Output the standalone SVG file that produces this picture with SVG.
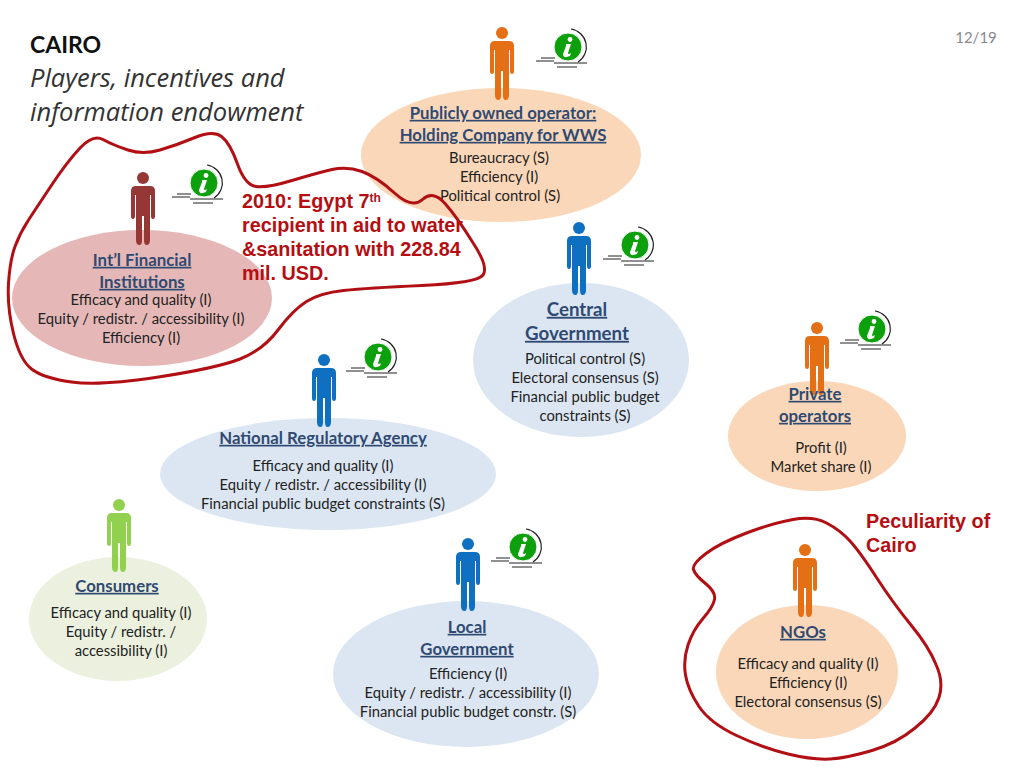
<svg xmlns="http://www.w3.org/2000/svg" xmlns:xlink="http://www.w3.org/1999/xlink" width="1024" height="768" viewBox="0 0 1024 768">
<style>
text{font-family:"Lato","Carlito","Open Sans",sans-serif;fill:#222;text-anchor:middle;transform:translateY(.8px)}
.b{font-size:14.800px}
.h{font-size:16.800px;font-weight:700;fill:#2f4a72;text-decoration:underline}
.h2{font-size:18.700px;font-weight:700;fill:#2f4a72;text-decoration:underline}
.r{font-family:"Liberation Sans",sans-serif;font-size:19.800px;font-weight:700;fill:#b50e12;text-anchor:start;transform:none}
.t{font-family:"Open Sans",sans-serif;font-size:25.500px;font-style:italic;text-anchor:start;fill:#333}
.blob{fill:none;stroke:#b20f14;stroke-width:3}
</style>
<defs>
<g id="person"><circle cx="0" cy="6" r="6"/><path d="M-7 14H7Q12 14 12 19V44Q12 47 10 47Q8 47 8 44V23H7V68Q7 73 3.500 73Q1 73 1 68V44H-1V68Q-1 73 -3.500 73Q-7 73 -7 68V23H-8V44Q-8 47 -10 47Q-12 47 -12 44V19Q-12 14 -7 14Z"/></g>
<g id="info">
<path d="M3 -18A18 18 0 0 1 10 15" fill="none" stroke="#222" stroke-width="1.200"/>
<path d="M-32 14H-14M-27 11H-13M-14 16H19M-11 20H9" stroke="#222" stroke-width="1.200" fill="none"/>
<circle r="14" fill="#0ca10c" stroke="#fff" stroke-width="1"/>
<circle cx="2" cy="-7.500" r="2.400" fill="#fff"/>
<path d="M-2 -3H3L0 6Q0 8 3 6L2 9Q-5 12 -5 7L-2 -1Z" fill="#fff"/>
</g>
</defs>
<text x="30" y="52" style="font-size:23px;font-weight:700;text-anchor:start;fill:#111">CAIRO</text>
<text class="t" x="30" y="86">Players, incentives and</text>
<text class="t" x="30" y="120">information endowment</text>
<text x="976" y="42" style="font-size:15px;fill:#8a8a8a">12/19</text>

<g id="node-holding">
<ellipse cx="501" cy="155" rx="140" ry="67" fill="#fad7b8"/>
<use xlink:href="#person" href="#person" x="502" y="27" fill="#e46f14"/>
<use xlink:href="#info" href="#info" x="568" y="47"/>
<text class="h" x="503" y="118">Publicly owned operator:</text>
<text class="h" x="503" y="140">Holding Company for WWS</text>
<text class="b" x="499" y="162">Bureaucracy (S)</text>
<text class="b" x="499" y="181">Efficiency  (I)</text>
<text class="b" x="500" y="200">Political control (S)</text>
</g>
<g id="node-ifi">
<ellipse cx="142" cy="298" rx="130" ry="68" fill="#e5b8b7"/>
<use xlink:href="#person" href="#person" x="143" y="172" fill="#953735"/>
<use xlink:href="#info" href="#info" x="204" y="183"/>
<text class="h" x="142" y="265">Int’l Financial</text>
<text class="h" x="142" y="287">Institutions</text>
<text class="b" x="141" y="304">Efficacy and quality (I)</text>
<text class="b" x="141" y="323">Equity / redistr. / accessibility (I)</text>
<text class="b" x="141" y="342">Efficiency (I)</text>
</g>
<g id="node-central">
<ellipse cx="581" cy="360" rx="108" ry="77" fill="#dce6f2"/>
<use xlink:href="#person" href="#person" x="579" y="222" fill="#0f6fc0"/>
<use xlink:href="#info" href="#info" x="635" y="245"/>
<text class="h2" x="577" y="315">Central</text>
<text class="h2" x="577" y="339">Government</text>
<text class="b" x="585" y="363">Political control (S)</text>
<text class="b" x="585" y="382">Electoral consensus (S)</text>
<text class="b" x="585" y="401">Financial public budget</text>
<text class="b" x="585" y="420">constraints (S)</text>
</g>
<g id="node-private">
<ellipse cx="817" cy="436" rx="89" ry="55" fill="#fad7b8"/>
<use xlink:href="#person" href="#person" x="817" y="322" fill="#e46f14"/>
<use xlink:href="#info" href="#info" x="872" y="329"/>
<text class="h" x="815" y="399">Private</text>
<text class="h" x="815" y="421">operators</text>
<text class="b" x="821" y="452">Profit (I)</text>
<text class="b" x="821" y="471">Market share (I)</text>
</g>
<g id="node-regulator">
<ellipse cx="328" cy="474" rx="168" ry="56" fill="#dce6f2"/>
<use xlink:href="#person" href="#person" x="324" y="354" fill="#0f6fc0"/>
<use xlink:href="#info" href="#info" x="378" y="357"/>
<text class="h" x="323" y="443">National Regulatory Agency</text>
<text class="b" x="323" y="470">Efficacy and quality (I)</text>
<text class="b" x="323" y="489">Equity / redistr. / accessibility (I)</text>
<text class="b" x="323" y="508">Financial public budget constraints (S)</text>
</g>
<g id="node-consumers">
<ellipse cx="118" cy="619" rx="89" ry="62" fill="#ebf1de"/>
<use xlink:href="#person" href="#person" x="119" y="499" fill="#92d050"/>
<text class="h" x="117" y="591">Consumers</text>
<text class="b" x="121" y="617">Efficacy and quality (I)</text>
<text class="b" x="121" y="636">Equity / redistr. /</text>
<text class="b" x="121" y="655">accessibility (I)</text>
</g>
<g id="node-local">
<ellipse cx="466" cy="674" rx="133" ry="73" fill="#dce6f2"/>
<use xlink:href="#person" href="#person" x="468" y="538" fill="#0f6fc0"/>
<use xlink:href="#info" href="#info" x="523" y="547"/>
<text class="h" x="467" y="632">Local</text>
<text class="h" x="467" y="654">Government</text>
<text class="b" x="468" y="678">Efficiency (I)</text>
<text class="b" x="468" y="697">Equity / redistr. / accessibility (I)</text>
<text class="b" x="468" y="716">Financial public budget constr. (S)</text>
</g>
<g id="node-ngos">
<ellipse cx="807" cy="672" rx="91" ry="67" fill="#fad7b8"/>
<use xlink:href="#person" href="#person" x="805" y="544" fill="#e46f14"/>
<text class="h" x="803" y="637">NGOs</text>
<text class="b" x="808" y="668">Efficacy and quality (I)</text>
<text class="b" x="808" y="687">Efficiency (I)</text>
<text class="b" x="808" y="706">Electoral consensus (S)</text>
</g>
<g id="connectors">
<path class="blob" d="M8.500 283.500Q10 260 15 246.500Q20 233 28.500 220Q37 207 52 184.500Q67 162 80 148Q93 134 103 139.500Q113 145 128 150Q143 155 160 150Q177 145 195 137.500Q213 130 221.500 136.500Q230 143 237.500 164Q245 185 256 186.500Q267 188 292 180.500Q317 173 332 169.500Q347 166 362 171.500Q377 177 394.500 193Q412 209 422.500 199.500Q433 190 445 203.500Q457 217 472.500 242Q489 267 483 275Q477 283 422 285.500Q367 288 343.500 290.500Q320 293 306.500 301.500Q293 310 278 330Q263 350 240 359Q217 368 158.500 377Q100 386 71.500 382Q43 378 31.500 369Q20 360 13.500 333.500Q7 307 8.500 283.500Z"/>
<path class="blob" d="M706 553.500Q720 543 746.500 533Q773 523 793 519.500Q813 516 826.500 523Q840 530 850 541Q860 552 876.500 577.500Q893 603 911 625Q929 647 936 664.500Q944 682 939 697.500Q934 713 915 728Q897 743 872 750.500Q847 758 830 759Q813 760 788 754Q763 748 736.500 735.500Q710 723 699 706.500Q688 690 685.500 675Q683 660 688 645Q693 630 703 618.500Q713 607 714.500 599.500Q716 592 705.500 583.500Q695 575 693.500 569.500Q692 564 706 553.500Z"/>
</g>
<text class="r" x="242" y="208">2010: Egypt 7<tspan font-size="12" dy="-6">th</tspan></text>
<text class="r" x="242" y="232">recipient in aid to water</text>
<text class="r" x="242" y="256">&amp;sanitation with 228.84</text>
<text class="r" x="242" y="280">mil. USD.</text>
<text class="r" x="866" y="528">Peculiarity of</text>
<text class="r" x="866" y="552">Cairo</text>
</svg>
